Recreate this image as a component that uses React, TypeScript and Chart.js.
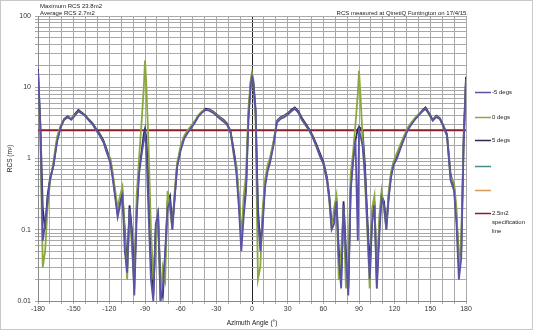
import React, { useEffect, useRef } from "react";
import { Chart, registerables } from "chart.js";

Chart.register(...registerables);

const angles = [
  -180, -178, -176, -174, -172, -170, -167, -164, -161, -158,
  -155, -152, -149, -146, -143, -140, -137, -134, -131, -128,
  -125, -122, -119, -117, -115, -113, -111, -109, -107, -105,
  -103, -101, -99, -97, -95, -93, -91, -90, -89, -87,
  -85, -83, -81, -79, -77, -75, -73, -71, -69, -67,
  -65, -63, -60, -57, -54, -51, -48, -45, -42, -39,
  -36, -33, -30, -27, -24, -21, -18, -15, -13, -11,
  -9, -7, -5, -3, -1, 0, 1, 3, 5, 7,
  9, 11, 13, 15, 18, 21, 24, 27, 30, 33,
  36, 39, 42, 45, 48, 51, 54, 57, 60, 63,
  65, 67, 69, 71, 73, 75, 77, 79, 81, 83,
  85, 87, 89, 90, 91, 93, 95, 97, 99, 101,
  103, 105, 107, 109, 111, 113, 115, 117, 119, 122,
  125, 128, 131, 134, 137, 140, 143, 146, 149, 152,
  155, 158, 161, 164, 167, 170, 172, 174, 176, 178,
  180,
];

const minus5Degs = [
  17, 2.5, 0.07, 0.12, 0.25, 0.5, 0.8, 1.7, 2.7, 3.5,
  3.8, 3.5, 4.0, 4.6, 4.3, 3.9, 3.4, 3.0, 2.5, 2.1,
  1.7, 1.2, 0.85, 0.5, 0.28, 0.15, 0.22, 0.3, 0.05, 0.025,
  0.2, 0.08, 0.012, 0.15, 0.6, 1.1, 1.8, 2.2, 1.5, 0.17,
  0.02, 0.01, 0.12, 0.17, 0.01, 0.015, 0.05, 0.2, 0.25, 0.1,
  0.28, 0.75, 1.3, 1.9, 2.3, 2.7, 3.2, 3.9, 4.4, 4.8,
  4.7, 4.4, 4.0, 3.6, 3.3, 3.0, 2.3, 1.1, 0.6, 0.2,
  0.05, 0.15, 0.35, 3.5, 11, 14, 12, 4.5, 0.15, 0.05,
  0.12, 0.4, 0.65, 0.85, 1.5, 3.2, 3.6, 3.8, 4.1, 4.6,
  5.0, 4.4, 3.5, 3.0, 2.5, 2.0, 1.5, 1.1, 0.85, 0.5,
  0.28, 0.1, 0.12, 0.25, 0.04, 0.015, 0.22, 0.04, 0.012, 0.35,
  0.9, 1.8, 0.07, 2.5, 2.2, 1.5, 0.6, 0.12, 0.02, 0.12,
  0.22, 0.015, 0.08, 0.28, 0.22, 0.1, 0.28, 0.55, 0.8, 1.0,
  1.4, 1.9, 2.5, 3.0, 3.5, 4.0, 4.5, 5.0, 4.2, 3.4,
  3.8, 3.6, 2.8, 2.1, 0.5, 0.35, 0.12, 0.02, 0.04, 1.5,
  13,
];

const zeroDegs = [
  16, 2, 0.03, 0.05, 0.2, 0.45, 0.9, 2.0, 2.9, 3.5,
  3.8, 3.7, 4.1, 4.6, 4.3, 3.9, 3.4, 3.0, 2.5, 2.1,
  1.7, 1.2, 1.0, 0.6, 0.35, 0.2, 0.3, 0.4, 0.08, 0.02,
  0.18, 0.06, 0.015, 0.3, 1.0, 3, 10, 23.8, 12, 1.5,
  0.1, 0.02, 0.05, 0.2, 0.01, 0.03, 0.02, 0.35, 0.2, 0.1,
  0.35, 0.85, 1.5, 2.1, 2.5, 2.9, 3.4, 4.1, 4.6, 4.8,
  4.8, 4.5, 4.1, 3.7, 3.4, 3.0, 2.3, 1.0, 0.8, 0.3,
  0.07, 0.3, 0.6, 5, 13, 16, 12, 4, 0.02, 0.03,
  0.2, 0.5, 0.8, 1.0, 1.7, 3.3, 3.7, 3.9, 4.2, 4.6,
  5.0, 4.4, 3.5, 2.9, 2.5, 2.0, 1.5, 1.1, 0.85, 0.5,
  0.25, 0.1, 0.2, 0.3, 0.02, 0.05, 0.2, 0.015, 0.03, 0.6,
  1.2, 3, 8, 17, 9, 2, 0.5, 0.1, 0.015, 0.2,
  0.3, 0.015, 0.15, 0.35, 0.2, 0.1, 0.35, 0.65, 0.9, 1.2,
  1.6, 2.1, 2.7, 3.2, 3.7, 4.2, 4.6, 5.0, 4.1, 3.4,
  3.9, 3.6, 2.8, 2.1, 0.55, 0.45, 0.2, 0.03, 0.08, 1.5,
  12,
];

const plus5Degs = [
  18, 3, 0.2, 0.1, 0.3, 0.5, 0.8, 1.8, 2.8, 3.6,
  3.9, 3.6, 4.2, 4.8, 4.4, 4.0, 3.5, 3.1, 2.6, 2.2,
  1.8, 1.3, 0.9, 0.55, 0.3, 0.17, 0.25, 0.32, 0.1, 0.03,
  0.22, 0.1, 0.02, 0.2, 0.7, 1.2, 2.2, 2.6, 2.0, 0.5,
  0.05, 0.012, 0.1, 0.15, 0.02, 0.012, 0.04, 0.25, 0.3, 0.12,
  0.3, 0.8, 1.4, 2.0, 2.4, 2.8, 3.3, 4.0, 4.5, 5.0,
  4.9, 4.6, 4.2, 3.8, 3.5, 3.1, 2.4, 1.2, 0.7, 0.25,
  0.08, 0.2, 0.4, 4, 12, 15, 13, 5, 0.2, 0.06,
  0.15, 0.45, 0.7, 0.9, 1.6, 3.4, 3.8, 4.0, 4.3, 4.8,
  5.2, 4.6, 3.7, 3.1, 2.6, 2.1, 1.6, 1.2, 0.9, 0.55,
  0.3, 0.12, 0.15, 0.28, 0.05, 0.02, 0.25, 0.05, 0.015, 0.4,
  1.0, 1.8, 2.6, 2.8, 2.7, 2.4, 0.8, 0.15, 0.03, 0.15,
  0.25, 0.02, 0.1, 0.3, 0.25, 0.12, 0.3, 0.6, 0.85, 1.1,
  1.5, 2.0, 2.6, 3.1, 3.6, 4.1, 4.7, 5.2, 4.3, 3.5,
  4.0, 3.7, 2.9, 2.2, 0.6, 0.4, 0.15, 0.04, 0.05, 2,
  14,
];

const specAngles = [-180, 180];
const specValue = 2.5;

const seriesLabels = ["-5 degs", "0 degs", "5 degs", "", "", "2.5m2 specification line"];
const annotationLines = ["Maximum RCS 23.8m2", "Average RCS 2.7m2"];
const sourceNote = "RCS measured at QinetiQ Funtington on 17/4/15.";
const xTitle = "Azimuth Angle (°)";
const yTitle = "RCS (m²)";
const yLabelValues = [0.01, 0.1, 1, 10, 100];

const FONT = "'Liberation Sans', Arial, sans-serif";

export default function App() {
  const ref = useRef<HTMLCanvasElement>(null);

  useEffect(() => {
    document.body.style.margin = "0";
    const canvas = ref.current;
    if (!canvas) return;

    const toPts = (vals: number[]) => angles.map((a, i) => ({ x: a, y: vals[i] }));

    const extras = {
      id: "extras",
      afterDraw(chart: any) {
        const ctx = chart.ctx;
        ctx.save();
        ctx.strokeStyle = "#c8c8c8";
        ctx.lineWidth = 1;
        ctx.strokeRect(0.5, 0.5, chart.width - 1, chart.height - 1);
        ctx.fillStyle = "#222";
        ctx.font = `6px ${FONT}`;
        ctx.textBaseline = "middle";
        ctx.textAlign = "left";
        ctx.fillText(annotationLines[0], 40, 6);
        ctx.fillText(annotationLines[1], 40, 13);
        ctx.textAlign = "right";
        ctx.fillText(sourceNote, 468, 13);
        const ys = [92, 117, 140, 166, 190, 213];
        ctx.textAlign = "left";
        chart.data.datasets.forEach((ds: any, i: number) => {
          const y = ys[i];
          ctx.strokeStyle = ds.borderColor;
          ctx.lineWidth = 1.5;
          ctx.beginPath();
          ctx.moveTo(475, y + 0.5);
          ctx.lineTo(491, y + 0.5);
          ctx.stroke();
          if (ds.label) {
            const words = ds.label === seriesLabels[5] ? ["2.5m2", "specification", "line"] : [ds.label];
            words.forEach((w: string, k: number) => {
              ctx.fillStyle = "#222";
              ctx.fillText(w, 492, y + k * 9);
            });
          }
        });
        ctx.restore();
      },
    };

    const chart = new Chart(canvas, {
      type: "line",
      data: {
        datasets: [
          { label: seriesLabels[0], data: toPts(minus5Degs), borderColor: "#5a52a6", borderWidth: 1.8, pointRadius: 0, tension: 0 },
          { label: seriesLabels[1], data: toPts(zeroDegs), borderColor: "#8aa83e", borderWidth: 1.8, pointRadius: 0, tension: 0 },
          { label: seriesLabels[2], data: toPts(plus5Degs), borderColor: "#29295a", borderWidth: 1.8, pointRadius: 0, tension: 0 },
          { label: seriesLabels[3], data: [], borderColor: "#4a8a93", borderWidth: 1.8, pointRadius: 0 },
          { label: seriesLabels[4], data: [], borderColor: "#d9975a", borderWidth: 1.8, pointRadius: 0 },
          {
            label: seriesLabels[5],
            data: specAngles.map((a) => ({ x: a, y: specValue })),
            borderColor: "#8b1c26",
            borderWidth: 2,
            pointRadius: 0,
          },
        ],
      },
      options: {
        responsive: false,
        animation: false,
        layout: { padding: { top: 16, right: 67, left: 0, bottom: 0 } },
        plugins: { legend: { display: false }, tooltip: { enabled: false } },
        scales: {
          x: {
            type: "linear",
            min: -180,
            max: 180,
            afterFit: (s: any) => {
              s.height = 29;
            },
            ticks: {
              stepSize: 10,
              autoSkip: false,
              maxRotation: 0,
              padding: 1,
              color: "#333",
              font: { size: 7, family: FONT },
              callback: (v: any) => (Number(v) % 30 === 0 ? String(v) : ""),
            },
            grid: {
              color: (c: any) => (c.tick && c.tick.value === 0 ? "#222" : "#a8a8a8"),
              lineWidth: 1,
              tickLength: 3,
            },
            border: { color: "#888" },
            title: { display: true, text: xTitle, color: "#222", font: { size: 6.5, family: FONT }, padding: { top: 1, bottom: 3 } },
          },
          y: {
            type: "logarithmic",
            min: 0.01,
            max: 100,
            afterFit: (s: any) => {
              s.width = 38;
            },
            ticks: {
              autoSkip: false,
              padding: 4,
              color: "#333",
              font: { size: 7, family: FONT },
              callback: (v: any) => {
                const n = Number(v);
                const hit = yLabelValues.find((t) => Math.abs(t - n) / t < 1e-6);
                return hit !== undefined ? String(hit) : "";
              },
            },
            grid: { color: "#a8a8a8", lineWidth: 1, tickLength: 3 },
            border: { color: "#888" },
            title: { display: true, text: yTitle, color: "#222", font: { size: 6.5, family: FONT }, padding: { top: 6, bottom: 2 } },
          },
        },
      } as any,
      plugins: [extras],
    });

    return () => chart.destroy();
  }, []);

  return (
    <div style={{ width: 533, height: 330 }}>
      <canvas ref={ref} width={533} height={330} style={{ display: "block" }} />
    </div>
  );
}
